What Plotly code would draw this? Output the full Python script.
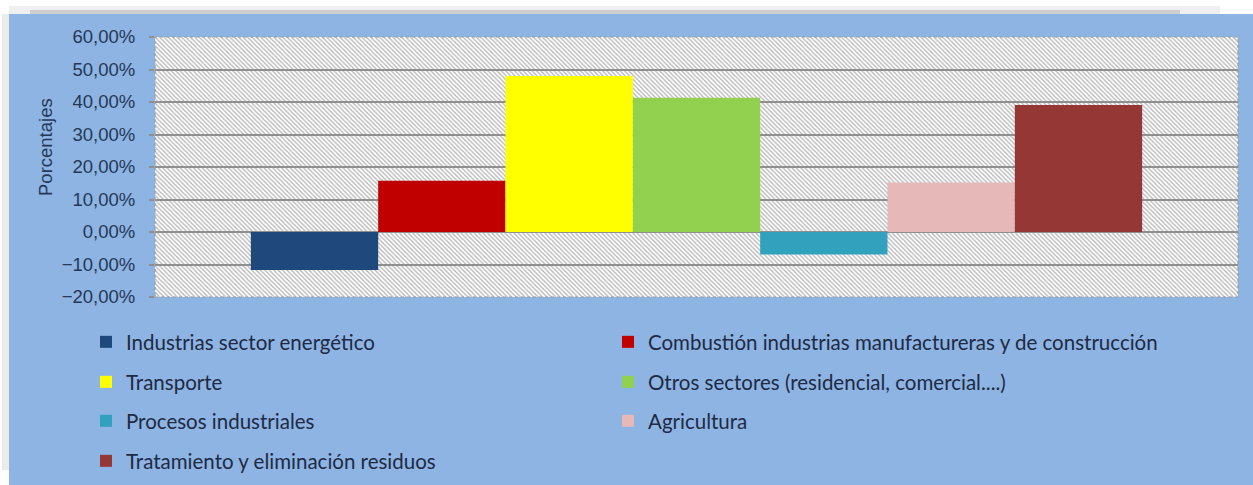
import base64
import plotly.graph_objects as go

# ---- data ----
categories = [
    "Industrias sector energético",
    "Combustión industrias manufactureras y de construcción",
    "Transporte",
    "Otros sectores (residencial, comercial....)",
    "Procesos industriales",
    "Agricultura",
    "Tratamiento y eliminación residuos",
]
values = [-0.117, 0.158, 0.480, 0.413, -0.069, 0.152, 0.391]
colors = ["#1F497D", "#C00000", "#FFFF00", "#92D050", "#31A1BD", "#E6B9B8", "#953735"]
y_ticks = [-0.2, -0.1, 0.0, 0.1, 0.2, 0.3, 0.4, 0.5, 0.6]

W, H = 1253, 485
L, R, T, B = 155, 15, 37, 188
PW, PH = W - L - R, H - T - B

def px_x(px):
    return (px - L) / PW

def px_y(py):
    return (H - B - py) / PH

# hatch background as an SVG image
p = 4.4
svg = (
    f'<svg xmlns="http://www.w3.org/2000/svg" width="{PW}" height="{PH}" '
    f'viewBox="0 0 {PW} {PH}" preserveAspectRatio="none">'
    f'<defs><pattern id="h" width="{p}" height="{p}" patternUnits="userSpaceOnUse">'
    f'<path d="M0,0 L{p},{p} M-1,{p-1} L1,{p+1} M{p-1},-1 L{p+1},1" '
    f'stroke="#B4B4B4" stroke-width="1.25"/></pattern></defs>'
    f'<rect width="{PW}" height="{PH}" fill="#FFFFFF"/>'
    f'<rect width="{PW}" height="{PH}" fill="url(#h)"/></svg>'
)
hatch_src = "data:image/svg+xml;base64," + base64.b64encode(svg.encode()).decode()

# legend placement: two columns, four rows (row-major order, like the reference)
col_x = [86, 608]
row_y = [342, 382, 421, 461]
legend_font = dict(family="Lato, Calibri, sans-serif", size=20.5, color="#1F2A44")

fig = go.Figure()
legends = {}
for i, (name, v, c) in enumerate(zip(categories, values, colors)):
    key = "legend" if i == 0 else f"legend{i + 1}"
    fig.add_trace(go.Bar(
        x=["total"], y=[v], name=name, marker=dict(color=c, line=dict(width=0)),
        legend=key,
    ))
    legends[key] = dict(
        orientation="v", x=px_x(col_x[i % 2]), xanchor="left",
        y=px_y(row_y[i // 2]), yanchor="middle",
        bgcolor="rgba(0,0,0,0)", font=legend_font,
        itemclick=False, itemdoubleclick=False,
    )

fig.update_layout(
    width=W, height=H,
    margin=dict(l=L, r=R, t=T, b=B, pad=0, autoexpand=False),
    paper_bgcolor="#8DB4E2",
    plot_bgcolor="#FFFFFF",
    barmode="group", bargap=0.177, bargroupgap=0,
    separators=",.",
    showlegend=True,
    xaxis=dict(showticklabels=False, showgrid=False, zeroline=False, ticks="",
               showline=False, fixedrange=True),
    yaxis=dict(range=[-0.2, 0.6], tickvals=y_ticks, tickformat=".2%",
               showgrid=True, gridcolor="#8F8F8F", gridwidth=1.5,
               zeroline=True, zerolinecolor="#8F8F8F", zerolinewidth=1.5,
               ticks="outside", ticklen=5, tickcolor="#8F8F8F", tickwidth=1.5,
               ticklabelstandoff=10,
               tickfont=dict(family="Liberation Sans, Arial, sans-serif", size=18.5,
                             color="#253858"),
               showline=False, fixedrange=True),
    images=[dict(source=hatch_src, xref="paper", yref="paper", x=0, y=1,
                 sizex=1, sizey=1, sizing="stretch", layer="below",
                 xanchor="left", yanchor="top")],
    shapes=[
        # dotted plot-area border
        dict(type="rect", xref="paper", yref="paper", x0=0, x1=1, y0=0, y1=1,
             line=dict(color="#9A9A9A", width=1.2, dash="dot"), layer="above"),
        # white outer frame with soft shadow (top and left)
        dict(type="rect", xref="paper", yref="paper", x0=px_x(-5), x1=px_x(W + 5),
             y0=px_y(14), y1=px_y(-5), fillcolor="#FFFFFF", line=dict(width=0),
             layer="below"),
        dict(type="rect", xref="paper", yref="paper", x0=px_x(-5), x1=px_x(9),
             y0=px_y(H + 5), y1=px_y(-5), fillcolor="#FFFFFF", line=dict(width=0),
             layer="below"),
        dict(type="rect", xref="paper", yref="paper", x0=px_x(9), x1=px_x(1220),
             y0=px_y(14), y1=px_y(6), fillcolor="rgba(120,120,120,0.12)",
             line=dict(width=0), layer="below"),
        dict(type="rect", xref="paper", yref="paper", x0=px_x(30), x1=px_x(1180),
             y0=px_y(14), y1=px_y(10), fillcolor="rgba(90,90,90,0.22)",
             line=dict(width=0), layer="below"),
        dict(type="rect", xref="paper", yref="paper", x0=px_x(2), x1=px_x(9),
             y0=px_y(470), y1=px_y(14), fillcolor="rgba(120,120,120,0.15)",
             line=dict(width=0), layer="below"),
    ],
    annotations=[
        dict(text="Porcentajes", xref="paper", yref="paper", x=px_x(45), y=px_y(147),
             xanchor="center", yanchor="middle", textangle=-90, showarrow=False,
             font=dict(family="Liberation Sans, Arial, sans-serif", size=18.5,
                       color="#253858")),
    ],
)
fig.update_layout(**legends)

fig.write_html("out.html", config={"displayModeBar": False},
               post_script="document.body.style.margin='0';")
